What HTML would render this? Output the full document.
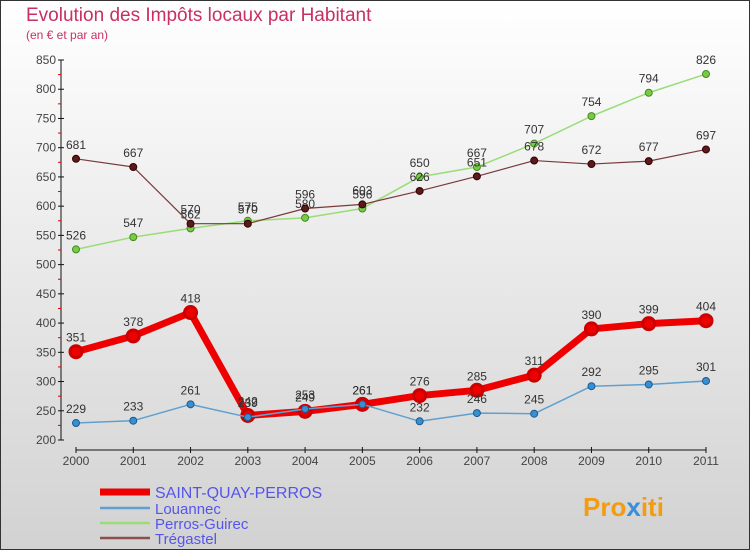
<!DOCTYPE html>
<html><head><meta charset="utf-8"><style>
body{margin:0;width:750px;height:550px;overflow:hidden;font-family:"Liberation Sans",sans-serif}
svg{display:block}
</style></head><body>
<svg id="c" width="750" height="550" xmlns="http://www.w3.org/2000/svg">
<defs><linearGradient id="bg" x1="0" y1="0" x2="0" y2="1"><stop offset="0" stop-color="#ffffff"/><stop offset="1" stop-color="#d2d2d2"/></linearGradient></defs>
<rect x="0.5" y="0.5" width="749" height="549" fill="url(#bg)" stroke="#333"/>
<text x="26" y="21" font-size="19" fill="#c8305f">Evolution des Impôts locaux par Habitant</text>
<text x="26" y="39" font-size="12" fill="#c8305f">(en € et par an)</text>
<g id="axes"></g><g id="series"></g><g id="legend"></g>
<text x="583" y="516" font-size="26" font-weight="bold" fill="#f39c12">Pro<tspan fill="#3a8fd8">x</tspan>iti</text>
</svg>
<script>
const years=[2000,2001,2002,2003,2004,2005,2006,2007,2008,2009,2010,2011];
const yTicks=[200,250,300,350,400,450,500,550,600,650,700,750,800,850];
const saintQuay=[351,378,418,242,249,261,276,285,311,390,399,404];
const louannec=[229,233,261,239,253,261,232,246,245,292,295,301];
const perros=[526,547,562,575,580,596,650,667,707,754,794,826];
const tregastel=[681,667,570,570,596,603,626,651,678,672,677,697];
const NS="http://www.w3.org/2000/svg";
const X=i=>76+i*(630/11);
const Y=v=>440-(v-200)*(380/650);
function mk(t,a,p){const e=document.createElementNS(NS,t);for(const k in a)e.setAttribute(k,a[k]);p.appendChild(e);return e;}
const ax=document.getElementById('axes');
let yl=mk('line',{x1:61,y1:60,x2:61,y2:440,stroke:'#111'},ax);


yTicks.forEach((v,i)=>{
 mk('line',{x1:58,y1:Y(v),x2:64,y2:Y(v),stroke:'#111'},ax);
 if(i<yTicks.length-1)mk('line',{x1:58,y1:Y(v+25),x2:61,y2:Y(v+25),stroke:'#d00'},ax);
 const t=mk('text',{x:56,y:Y(v)+4,'font-size':12,fill:'#444','text-anchor':'end'},ax);t.textContent=v;
 
 
});
let xl=mk('line',{x1:X(0),y1:450,x2:X(11),y2:450,stroke:'#111'},ax);


years.forEach((y,i)=>{
 mk('line',{x1:X(i),y1:447,x2:X(i),y2:453,stroke:'#111'},ax);
 const t=mk('text',{x:X(i),y:465,'font-size':12,fill:'#444','text-anchor':'middle'},ax);t.textContent=y;
 
 
});
const sg=document.getElementById('series');
function series(data,color,w,r,name,dot,dotStroke){
 const g=mk('g',{},sg);
 
 
 mk('polyline',{points:data.map((v,i)=>X(i)+','+Y(v)).join(' '),fill:'none',stroke:color,'stroke-width':w,'stroke-linejoin':'round'},g);
 data.forEach((v,i)=>{
  const c=mk('circle',{cx:X(i),cy:Y(v),r:r,fill:dot,stroke:dotStroke,'stroke-width':r>5?3:1},g);
  
  
  const t=mk('text',{x:X(i),y:Y(v)-10,'font-size':12,fill:'#333','text-anchor':'middle'},g);t.textContent=v;
  
  
 });
}
series(perros,'#99dd77',1.5,3.5,'perros-guirec-series','#77cc44','#448822');
series(tregastel,'#7a3a3a',1.2,3.5,'tregastel-series','#5a1a1a','#300');
series(saintQuay,'#ee0000',7,6,'saint-quay-perros-series','#ee0000','#cc0000');
series(louannec,'#5fa0d0',1.5,3.5,'louannec-series','#3a8fd0','#1a5a90');
const lg=document.getElementById('legend');
[['SAINT-QUAY-PERROS','#ee0000',7,492,16],['Louannec','#5fa0d0',2.5,508,15],['Perros-Guirec','#99dd77',2.5,523,15],['Trégastel','#8a5050',2.5,538,15]].forEach(([n,c,w,y,fs])=>{
 const g=mk('g',{},lg);
 
 
 mk('line',{x1:100,y1:y,x2:150,y2:y,stroke:c,'stroke-width':w},g);
 const t=mk('text',{x:155,y:y+6,'font-size':fs,fill:'#5555ee'},g);t.textContent=n;
});
</script>
</body></html>
